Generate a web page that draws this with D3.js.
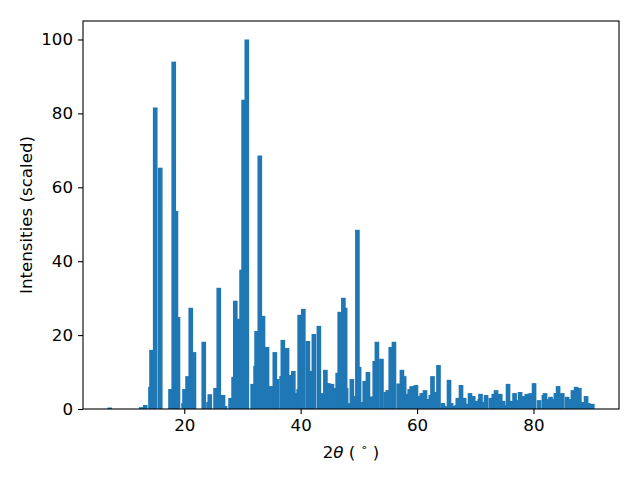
<!DOCTYPE html>
<html>
<head>
<meta charset="utf-8">
<script src="https://cdn.jsdelivr.net/npm/d3@7"></script>
<style>
  body { margin: 0; background: #fff; }
  text { font-family: "DejaVu Sans", sans-serif; }
</style>
</head>
<body>
<div id="chart"></div>
<script>
// peak positions (2theta, degrees) and scaled intensities
var twoTheta = [
  7.19, 12.61, 13.29, 14.20, 14.38, 15.01, 15.87, 17.64, 18.19, 18.57,
  18.92, 19.88, 20.05, 20.57, 21.12, 21.67, 23.35, 24.18, 24.39, 25.38,
  25.93, 26.66, 27.00, 27.96, 28.48, 28.77, 29.29, 29.85, 30.20, 30.75,
  31.75, 32.26, 32.43, 32.98, 33.53, 34.22, 34.88, 35.56, 35.94, 36.73,
  36.94, 37.66, 38.23, 38.74, 39.17, 39.66, 39.83, 40.46, 41.24, 41.75,
  42.27, 43.13, 43.73, 44.25, 44.76, 45.37, 45.88, 46.36, 46.71, 47.34,
  47.64, 47.81, 48.29, 48.80, 49.32, 49.75, 50.04, 50.52, 51.01, 51.56,
  52.16, 52.73, 53.10, 53.88, 54.62, 54.96, 55.48, 56.03, 56.85, 57.40,
  57.78, 58.26, 58.74, 59.09, 59.81, 60.33, 60.81, 61.36, 61.87, 62.36,
  62.65, 63.16, 63.68, 64.45, 64.97, 65.49, 65.86, 66.35, 66.83, 67.00,
  67.55, 68.10, 68.58, 69.10, 69.65, 70.21, 70.78, 70.90, 71.33, 71.85,
  72.67, 73.19, 73.57, 74.29, 74.77, 75.25, 75.63, 76.23, 76.75, 77.18,
  77.70, 78.30, 78.86, 79.55, 80.10, 80.96, 81.79, 81.99, 82.51, 82.94,
  83.37, 83.85, 84.23, 84.95, 85.78, 86.29, 86.78, 87.33, 87.88, 88.44,
  89.04, 89.42, 90.11
];
var intensity = [
  0.4, 0.5, 1.1, 6.0, 16.0, 81.6, 65.3, 5.4, 94.0, 53.6,
  24.9, 1.6, 5.4, 8.9, 27.4, 15.4, 18.2, 1.9, 4.0, 5.7,
  32.8, 3.8, 0.8, 3.0, 8.7, 29.3, 24.4, 37.7, 83.7, 100.0,
  6.8, 11.7, 21.1, 68.6, 25.2, 16.8, 6.2, 15.4, 8.1, 8.9,
  18.7, 16.5, 9.2, 10.3, 4.3, 5.4, 25.5, 27.1, 18.4, 10.3,
  20.3, 22.5, 4.3, 10.6, 7.0, 6.8, 5.7, 9.8, 26.3, 30.1,
  27.4, 5.7, 1.6, 8.1, 3.5, 48.5, 11.4, 1.9, 7.6, 10.0,
  3.4, 13.0, 18.2, 13.6, 4.6, 5.1, 16.8, 18.2, 6.9, 10.6,
  8.9, 4.1, 5.4, 6.2, 6.5, 3.5, 4.3, 5.1, 2.7, 3.8,
  8.9, 4.6, 11.9, 1.6, 0.8, 7.9, 1.6, 0.8, 1.1, 3.0,
  6.5, 3.0, 1.4, 4.3, 3.5, 2.2, 2.7, 4.1, 1.9, 3.8,
  3.0, 4.1, 5.1, 4.1, 2.2, 1.1, 6.8, 2.2, 4.3, 2.4,
  4.6, 3.5, 4.1, 4.3, 7.0, 2.4, 3.8, 4.3, 2.7, 3.3,
  2.7, 4.3, 6.2, 4.3, 3.3, 2.7, 5.1, 6.0, 5.7, 1.9,
  3.5, 1.6, 1.4
];
var xTicks = [20, 40, 60, 80];
var yTicks = [0, 20, 40, 60, 80, 100];

var peaks = twoTheta.map(function (t, i) { return { t: t, v: intensity[i] }; });

var barWidth = 0.8; // degrees

var margin = { top: 21, right: 21, bottom: 71, left: 83 };
var svgWidth = 640;
var svgHeight = 480;
var width = svgWidth - margin.left - margin.right;
var height = svgHeight - margin.top - margin.bottom;

var svg = d3.select("#chart")
  .append("svg")
  .attr("width", svgWidth)
  .attr("height", svgHeight);

var plot = svg.append("g")
  .attr("transform", `translate(${margin.left}, ${margin.top})`);

// matplotlib style 5% padding around the bar extent
var lo = d3.min(twoTheta) - barWidth / 2;
var hi = d3.max(twoTheta) + barWidth / 2;
var pad = (hi - lo) * 0.05;

var xScale = d3.scaleLinear()
  .domain([lo - pad, hi + pad])
  .range([0, width]);

var yScale = d3.scaleLinear()
  .domain([0, d3.max(intensity) * 1.05])
  .range([height, 0]);

plot.selectAll("rect.bar")
  .data(peaks)
  .enter()
  .append("rect")
  .attr("class", "bar")
  .attr("x", d => xScale(d.t - barWidth / 2))
  .attr("width", d => xScale(d.t + barWidth / 2) - xScale(d.t - barWidth / 2))
  .attr("y", d => yScale(d.v))
  .attr("height", d => yScale(0) - yScale(d.v))
  .attr("fill", "#1f77b4");

// axes
var bottomAxis = d3.axisBottom(xScale).tickValues(xTicks).tickSize(5).tickPadding(5);
var leftAxis = d3.axisLeft(yScale).tickValues(yTicks).tickSize(5).tickPadding(5);

var gx = plot.append("g")
  .attr("transform", `translate(0, ${height})`)
  .call(bottomAxis);
var gy = plot.append("g")
  .call(leftAxis);

[gx, gy].forEach(function (g) {
  g.select(".domain").remove();
  g.selectAll(".tick line").attr("stroke", "#000").attr("stroke-width", 1.1);
  g.selectAll(".tick text")
    .attr("fill", "#000")
    .style("font-family", "DejaVu Sans")
    .style("font-size", "16.67px");
});

// frame
plot.append("rect")
  .attr("width", width)
  .attr("height", height)
  .attr("fill", "none")
  .attr("stroke", "#000")
  .attr("stroke-width", 1.1);

// axis labels
svg.append("text")
  .attr("transform", `translate(32, ${margin.top + height / 2}) rotate(-90)`)
  .attr("text-anchor", "middle")
  .style("font-size", "16.67px")
  .text("Intensities (scaled)");

var xl = svg.append("text")
  .attr("x", margin.left + width / 2)
  .attr("y", 458)
  .attr("text-anchor", "middle")
  .style("font-size", "16.67px");
xl.append("tspan").text("2");
xl.append("tspan").style("font-style", "italic").text("θ");
xl.append("tspan").text(" ( ");
xl.append("tspan").attr("dy", -7).style("font-size", "11px").text("∘");
xl.append("tspan").attr("dy", 7).text(" )");
</script>
</body>
</html>
